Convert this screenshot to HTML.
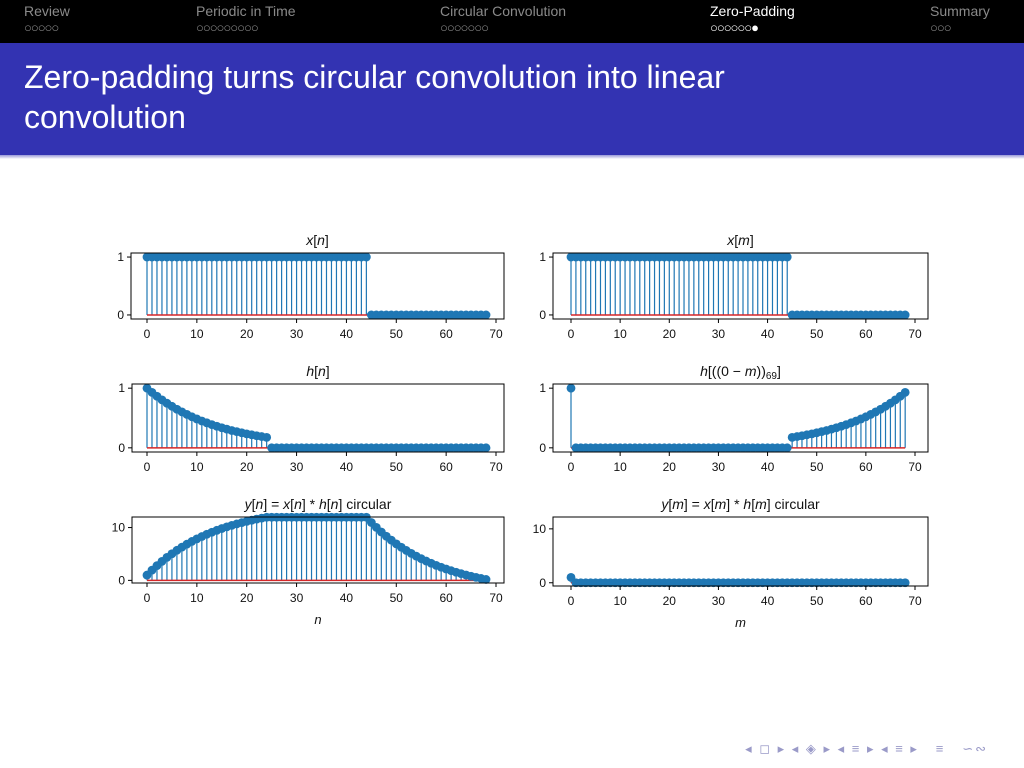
<!DOCTYPE html>
<html><head><meta charset="utf-8"><style>
body{margin:0;width:1024px;height:768px;overflow:hidden;background:#fff;font-family:"Liberation Sans","DejaVu Sans",sans-serif;position:relative}
#nav{position:absolute;left:0;top:0;width:1024px;height:43px;background:#000}
.sec{position:absolute;top:3px;font-size:14px;color:#8a8a8a}
.sec .d{font-size:13px;line-height:14px;margin-top:2px;letter-spacing:-1px}
.sec.act{color:#fff}
#title{position:absolute;left:0;top:43px;width:1024px;height:112px;background:#3333b2;color:#fff;font-size:32px;line-height:40px;box-sizing:border-box;padding:14px 0 0 24px}
#shadow{position:absolute;left:0;top:155px;width:1024px;height:4px;background:linear-gradient(#9898d8,#fff)}
#foot{position:absolute;right:36px;top:741px;font-size:13px;color:#9a9ac8;letter-spacing:2px}
svg{position:absolute;left:0;top:0}
</style></head><body>
<div id="nav">
<div class="sec" style="left:24px">Review<div class="d">○○○○○</div></div>
<div class="sec" style="left:196px">Periodic in Time<div class="d">○○○○○○○○○</div></div>
<div class="sec" style="left:440px">Circular Convolution<div class="d">○○○○○○○</div></div>
<div class="sec act" style="left:710px">Zero-Padding<div class="d">○○○○○○●</div></div>
<div class="sec" style="left:930px">Summary<div class="d">○○○</div></div>
</div>
<div id="title">Zero-padding turns circular convolution into linear<br>convolution</div>
<div id="shadow"></div>
<div id="foot">◂ ◻ ▸ ◂ ◈ ▸ ◂ ≡ ▸ ◂ ≡ ▸ &nbsp; ≡ &nbsp; ∽∾</div>
<svg id="chart" width="1024" height="768"></svg>
<script>
const nIdx=[...Array(69).keys()];
const xVals=[1,1,1,1,1,1,1,1,1,1,1,1,1,1,1,1,1,1,1,1,1,1,1,1,1,1,1,1,1,1,1,1,1,1,1,1,1,1,1,1,1,1,1,1,1,0,0,0,0,0,0,0,0,0,0,0,0,0,0,0,0,0,0,0,0,0,0,0,0];
const hVals=[1,.93,.865,.804,.748,.696,.647,.602,.560,.520,.484,.450,.419,.389,.362,.337,.313,.291,.271,.252,.234,.218,.203,.189,.175,0,0,0,0,0,0,0,0,0,0,0,0,0,0,0,0,0,0,0,0,0,0,0,0,0,0,0,0,0,0,0,0,0,0,0,0,0,0,0,0,0,0,0,0];
const hRevVals=[1,0,0,0,0,0,0,0,0,0,0,0,0,0,0,0,0,0,0,0,0,0,0,0,0,0,0,0,0,0,0,0,0,0,0,0,0,0,0,0,0,0,0,0,0,.175,.189,.203,.218,.234,.252,.271,.291,.313,.337,.362,.389,.419,.450,.484,.520,.560,.602,.647,.696,.748,.804,.865,.93];
const yVals=[1,1.93,2.795,3.599,4.347,5.043,5.690,6.292,6.852,7.372,7.856,8.306,8.725,9.114,9.476,9.813,10.126,10.417,10.688,10.940,11.174,11.392,11.595,11.784,11.959,11.959,11.959,11.959,11.959,11.959,11.959,11.959,11.959,11.959,11.959,11.959,11.959,11.959,11.959,11.959,11.959,11.959,11.959,11.959,11.959,10.959,10.029,9.164,8.360,7.612,6.916,6.269,5.667,5.107,4.587,4.103,3.653,3.234,2.845,2.483,2.146,1.833,1.542,1.271,1.019,0.785,0.567,0.364,0.175];
const yMVals=[1,0,0,0,0,0,0,0,0,0,0,0,0,0,0,0,0,0,0,0,0,0,0,0,0,0,0,0,0,0,0,0,0,0,0,0,0,0,0,0,0,0,0,0,0,0,0,0,0,0,0,0,0,0,0,0,0,0,0,0,0,0,0,0,0,0,0,0,0];
const xTicks=[0,10,20,30,40,50,60,70];
const NS='http://www.w3.org/2000/svg';
const svg=document.getElementById('chart');
function mk(t,a,p){const e=document.createElementNS(NS,t);for(const k in a)e.setAttribute(k,a[k]);(p||svg).appendChild(e);return e;}
const panels=[
 {name:'x-n',title:'<tspan font-style="italic">x</tspan>[<tspan font-style="italic">n</tspan>]',L:131,R:504,T:253,B:319,x0:147,x70:496,ymin:-0.07,ymax:1.07,yt:[0,1],data:xVals},
 {name:'x-m',title:'<tspan font-style="italic">x</tspan>[<tspan font-style="italic">m</tspan>]',L:553,R:928,T:253,B:319,x0:571,x70:915,ymin:-0.07,ymax:1.07,yt:[0,1],data:xVals},
 {name:'h-n',title:'<tspan font-style="italic">h</tspan>[<tspan font-style="italic">n</tspan>]',L:132,R:504,T:384,B:452,x0:147,x70:496,ymin:-0.07,ymax:1.07,yt:[0,1],data:hVals},
 {name:'h-reversed',title:'<tspan font-style="italic">h</tspan>[((0 − <tspan font-style="italic">m</tspan>))<tspan font-size="10" dy="3">69</tspan><tspan dy="-3">]</tspan>',L:553,R:928,T:384,B:452,x0:571,x70:915,ymin:-0.07,ymax:1.07,yt:[0,1],data:hRevVals},
 {name:'y-n',title:'<tspan font-style="italic">y</tspan>[<tspan font-style="italic">n</tspan>] = <tspan font-style="italic">x</tspan>[<tspan font-style="italic">n</tspan>] * <tspan font-style="italic">h</tspan>[<tspan font-style="italic">n</tspan>] circular',L:132,R:504,T:517,B:583,x0:147,x70:496,ymin:-0.5,ymax:12,yt:[0,10],data:yVals,xl:'n'},
 {name:'y-m',title:'<tspan font-style="italic">y</tspan>[<tspan font-style="italic">m</tspan>] = <tspan font-style="italic">x</tspan>[<tspan font-style="italic">m</tspan>] * <tspan font-style="italic">h</tspan>[<tspan font-style="italic">m</tspan>] circular',L:553,R:928,T:517,B:586,x0:571,x70:915,ymin:-0.6,ymax:12.2,yt:[0,10],data:yMVals,xl:'m'}
];
panels.forEach(p=>{
 const g=mk('g',{});
 
 
 const X=v=>p.x0+(p.x70-p.x0)*v/70;
 const Y=v=>p.B-(p.B-p.T)*(v-p.ymin)/(p.ymax-p.ymin);
 const t=mk('text',{x:(p.L+p.R)/2,y:p.T-8,'text-anchor':'middle','font-size':14,fill:'#111'},g);
 t.innerHTML=p.title;
 
 
 nIdx.forEach(i=>{const l=mk('line',{x1:X(i),x2:X(i),y1:Y(0),y2:Y(p.data[i]),stroke:'#1f77b4','stroke-width':1.2},g);
  
  });
 const b=mk('line',{x1:X(0),x2:X(68),y1:Y(0),y2:Y(0),stroke:'#d62728','stroke-width':1.5},g);
 
 
 nIdx.forEach(i=>{const c=mk('circle',{cx:X(i),cy:Y(p.data[i]),r:4.4,fill:'#1f77b4'},g);
  
  });
 const fr=mk('rect',{x:p.L,y:p.T,width:p.R-p.L,height:p.B-p.T,fill:'none',stroke:'#000','stroke-width':1},g);
 
 
 xTicks.forEach(v=>{mk('line',{x1:X(v),x2:X(v),y1:p.B,y2:p.B+4,stroke:'#000'},g);
  const tl=mk('text',{x:X(v),y:p.B+19,'text-anchor':'middle','font-size':12,fill:'#111'},g);tl.textContent=v;
  
  });
 p.yt.forEach(v=>{mk('line',{x1:p.L-4,x2:p.L,y1:Y(v),y2:Y(v),stroke:'#000'},g);
  const tl=mk('text',{x:p.L-7,y:Y(v)+4,'text-anchor':'end','font-size':12,fill:'#111'},g);tl.textContent=v;
  
  });
 if(p.xl){const xl=mk('text',{x:(p.L+p.R)/2,y:p.B+41,'text-anchor':'middle','font-size':13,'font-style':'italic',fill:'#111'},g);xl.textContent=p.xl;
  
  }
});
</script>
</body></html>
